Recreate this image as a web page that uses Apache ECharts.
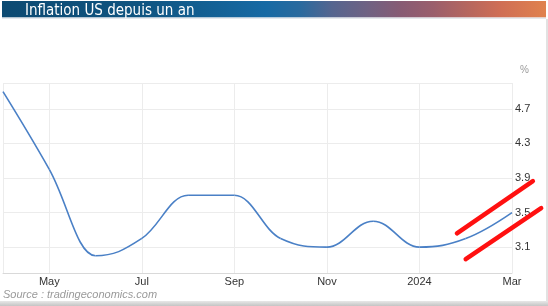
<!DOCTYPE html>
<html><head><meta charset="utf-8">
<script src="https://cdn.jsdelivr.net/npm/echarts@6/dist/echarts.min.js"></script>
<style>html,body{margin:0;padding:0;background:#fff}#c{width:548px;height:306px}</style>
</head><body><div id="c"></div>
<script>
// ---- data ----
const categories = ['Apr','May','Jun','Jul','Aug','Sep','Oct','Nov','Dec','2024','Feb','Mar'];
const inflation = [4.9, 4.0, 3.0, 3.2, 3.7, 3.7, 3.2, 3.1, 3.4, 3.1, 3.2, 3.5];
const yTickLabels = [3.1, 3.5, 3.9, 4.3, 4.7];
const yGridValues = [3.1, 3.5, 3.9, 4.3, 4.7, 5.0];
// hand-drawn red highlight strokes: [startIndex, startValue, endIndex, endValue]
const markUpper = [9.81, 3.26, 11.45, 3.865];
const markLower = [10.0, 2.96, 11.63, 3.552];

const FONT = '"Liberation Sans", Arial, Helvetica, sans-serif';

// spline control points (Highcharts-style, no overshoot)
function splineCtrl(pts) {
  const sm = 1.5, den = 2.5, ctrl = [];
  for (let i = 0; i < pts.length; i++) {
    const px = pts[i][0], py = pts[i][1];
    if (i > 0 && i < pts.length - 1) {
      const lx = pts[i-1][0], ly = pts[i-1][1], nx = pts[i+1][0], ny = pts[i+1][1];
      let lcx = (sm*px + lx)/den, lcy = (sm*py + ly)/den;
      let rcx = (sm*px + nx)/den, rcy = (sm*py + ny)/den;
      let corr = 0;
      if (rcx !== lcx) corr = ((rcy - lcy)*(rcx - px))/(rcx - lcx) + py - rcy;
      lcy += corr; rcy += corr;
      if (lcy > ly && lcy > py) { lcy = Math.max(ly, py); rcy = 2*py - lcy; }
      else if (lcy < ly && lcy < py) { lcy = Math.min(ly, py); rcy = 2*py - lcy; }
      if (rcy > ny && rcy > py) { rcy = Math.max(ny, py); lcy = 2*py - rcy; }
      else if (rcy < ny && rcy < py) { rcy = Math.min(ny, py); lcy = 2*py - rcy; }
      ctrl[i] = { lo: [lcx, lcy], hi: [rcx, rcy] };
    } else {
      ctrl[i] = { lo: [px, py], hi: [px, py] };
    }
  }
  return ctrl;
}

function renderSpline(params, api) {
  if (params.dataIndex !== 0) return null;
  const pts = inflation.map((v, i) => api.coord([i, v]));
  const c = splineCtrl(pts);
  const children = [];
  for (let i = 1; i < pts.length; i++) {
    children.push({
      type: 'bezierCurve',
      shape: {
        x1: pts[i-1][0], y1: pts[i-1][1], x2: pts[i][0], y2: pts[i][1],
        cpx1: c[i-1].hi[0], cpy1: c[i-1].hi[1], cpx2: c[i].lo[0], cpy2: c[i].lo[1]
      },
      style: { stroke: '#4a80c6', lineWidth: 1.6, fill: 'none' }
    });
  }
  return { type: 'group', children };
}

function renderMark(params, api) {
  const xa = api.coord([0, 3])[0], xb = api.coord([categories.length - 1, 3])[0];
  const step = (xb - xa) / (categories.length - 1);
  const x1 = xa + step * api.value(0), y1 = api.coord([0, api.value(1)])[1];
  const x2 = xa + step * api.value(2), y2 = api.coord([0, api.value(3)])[1];
  return {
    type: 'line',
    shape: { x1, y1, x2, y2 },
    style: { stroke: '#ff1010', lineWidth: 4.5, lineCap: 'round' }
  };
}

const chart = echarts.init(document.getElementById('c'));
chart.setOption({
  animation: false,
  backgroundColor: '#fff',
  title: {
    text: 'Inflation US depuis un an',
    left: 25, top: 4, padding: 0, z: 10,
    textStyle: { color: '#fff', fontSize: 15, fontWeight: 'normal',
      fontFamily: '"Liberation Sans Narrow", "DejaVu Sans Condensed", sans-serif', lineHeight: 15 }
  },
  grid: { left: 3, right: 36, top: 83, bottom: 33 },
  xAxis: {
    type: 'category', data: categories, boundaryGap: false,
    axisLine: { lineStyle: { color: '#d9d9d9' } },
    axisTick: { show: false },
    axisLabel: { interval: (i) => i % 2 === 1, color: '#333', fontSize: 11, margin: 3, fontFamily: FONT },
    splitLine: { show: true, interval: (i) => i % 2 === 1 || i === 0, lineStyle: { color: '#ececec' } }
  },
  yAxis: {
    type: 'value', position: 'right', min: 2.8, max: 5.0,
    name: '%', nameLocation: 'end', nameGap: 8,
    nameTextStyle: { color: '#9a9a9a', fontSize: 10, align: 'left', padding: [0, 0, 0, 8], fontFamily: FONT },
    axisLine: { show: false },
    axisTick: { show: false, customValues: yGridValues },
    axisLabel: { customValues: yTickLabels, formatter: (v) => v.toFixed(1), color: '#333', fontSize: 11, margin: 3, fontFamily: FONT },
    splitLine: { show: true, lineStyle: { color: '#ececec' } }
  },
  series: [
    { type: 'custom', name: 'Inflation', coordinateSystem: 'cartesian2d',
      data: inflation.map((v, i) => [i, v]), renderItem: renderSpline, z: 3 },
    { type: 'custom', name: 'Annotation', coordinateSystem: 'cartesian2d', clip: false,
      encode: { x: -1, y: 1 },
      data: [markUpper, markLower], renderItem: renderMark, z: 5, silent: true }
  ],
  graphic: [
    { type: 'rect', z: 0, shape: { x: 2, y: 1, width: 544, height: 16.5 },
      style: { fill: new echarts.graphic.LinearGradient(0, 0, 1, 0, [
        { offset: 0, color: '#0d4a72' }, { offset: 0.25, color: '#0f5480' },
        { offset: 0.485, color: '#176aa4' }, { offset: 0.548, color: '#2a6a9e' },
        { offset: 0.608, color: '#56658f' }, { offset: 0.671, color: '#6f6283' },
        { offset: 0.732, color: '#875b74' }, { offset: 0.792, color: '#9a5e6c' },
        { offset: 0.855, color: '#b5665f' }, { offset: 0.915, color: '#cf6e55' },
        { offset: 1, color: '#e0824e' }]) } },
    { type: 'rect', z: 0, shape: { x: 2, y: 17.5, width: 544, height: 1.2 }, style: { fill: '#dde2e7' } },
    { type: 'rect', z: 0, shape: { x: 546, y: 19, width: 2, height: 283 }, style: { fill: '#e2e2e2' } },
    { type: 'rect', z: 0, shape: { x: 0, y: 301, width: 548, height: 5 },
      style: { fill: new echarts.graphic.LinearGradient(0, 0, 0, 1, [
        { offset: 0, color: '#e8e8e8' }, { offset: 1, color: '#c4c4c4' }]) } },
    { type: 'text', z: 5, x: 3, y: 295,
      style: { text: 'Source : tradingeconomics.com', fill: '#9a9a9a', fontSize: 11, fontStyle: 'italic',
        fontFamily: FONT, verticalAlign: 'middle' } }
  ]
});
</script>
</body></html>
